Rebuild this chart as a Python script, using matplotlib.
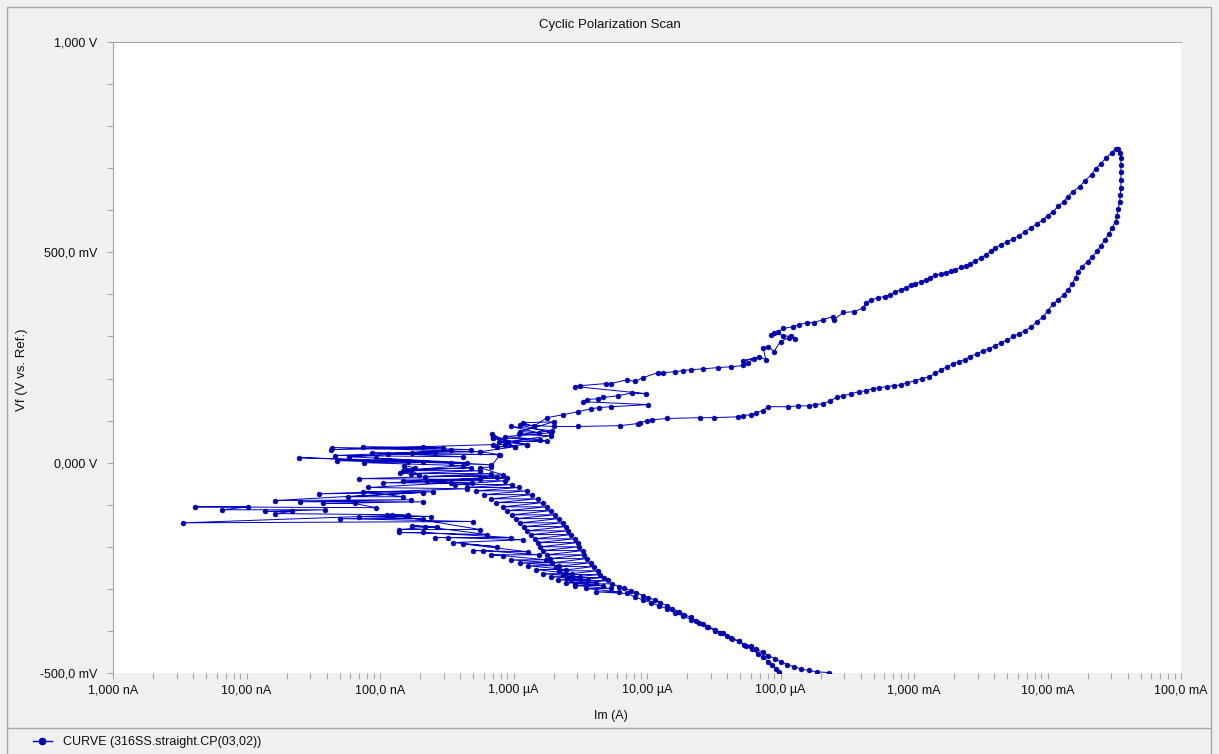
import numpy as np
import matplotlib
matplotlib.use("Agg")
import matplotlib.pyplot as plt
from matplotlib.ticker import FixedLocator, FixedFormatter, LogLocator, MultipleLocator, NullFormatter
from matplotlib.lines import Line2D
from matplotlib.patches import Rectangle

plt.rcParams['font.family'] = ['Liberation Sans', 'DejaVu Sans']

# ---- data: (log10 of Im in A, Vf in mV), in scan order ----
fwd_cathodic = [(-3.64,-499),(-3.73,-497),(-3.79,-494),(-3.85,-490),(-3.90,-485),(-3.95,-480),(-4.00,-473),(-4.04,-466),
    (-4.09,-459),(-4.13,-451),(-4.18,-444),(-4.22,-437),(-4.27,-433),(-4.31,-425),(-4.36,-418),(-4.40,-411),(-4.45,-404),
    (-4.49,-397),(-4.54,-390),(-4.58,-383),(-4.63,-376),(-4.67,-368),(-4.72,-361),(-4.76,-354),(-4.81,-347),(-4.85,-340),
    (-4.90,-333),(-4.94,-326),(-4.99,-321),(-5.03,-316),(-5.08,-309),(-5.12,-304),(-5.17,-299),(-5.21,-295)]

fwd_upper_band = [(-5.26,-288),(-5.54,-288),(-5.29,-280),(-5.57,-280),(-5.32,-273),(-5.60,-273),(-5.35,-266),(-5.63,-266),
    (-5.37,-257),(-5.66,-257),(-5.40,-247),(-5.68,-247),(-5.42,-238),(-5.71,-238),(-5.45,-228),(-5.73,-228),(-5.47,-219),
    (-5.75,-219),(-5.48,-209),(-5.78,-209),(-5.51,-200),(-5.80,-200),(-5.52,-190),(-5.82,-190),(-5.54,-181),(-5.84,-181),
    (-5.57,-171),(-5.87,-171),(-5.59,-162),(-5.90,-162),(-5.61,-152),(-5.92,-152),(-5.63,-143),(-5.95,-143),(-5.66,-133),
    (-5.98,-133),(-5.69,-124),(-6.01,-124),(-5.72,-114),(-6.05,-114),(-5.75,-105),(-6.08,-105),(-5.78,-95),(-6.13,-95),
    (-5.82,-86),(-6.17,-86),(-5.86,-76),(-6.22,-76),(-5.90,-67),(-6.28,-67),(-5.96,-59),(-6.35,-59),(-6.01,-52),(-6.44,-52),
    (-6.06,-43),(-6.55,-43),(-6.12,-33),(-6.66,-33),(-6.17,-26),(-6.77,-26),(-6.25,-19),(-6.83,-19),(-6.32,-12),(-6.80,-17),
    (-6.82,-7),(-6.74,-12),(-6.85,-24),(-6.71,-29),(-6.77,-17)]

fwd_ecorr = [(-6.38,-7),(-7.12,0),(-6.68,2),(-7.32,5),(-6.47,0),(-7.03,10),(-6.17,-5),(-6.79,2),(-7.61,12),(-6.35,0),
    (-7.23,14),(-6.59,26),(-7.34,17),(-6.38,14),(-7.06,24),(-6.11,19),(-6.94,21),(-6.47,29),(-6.76,24),(-6.25,26),
    (-7.36,36),(-6.32,31),(-7.13,38),(-6.53,36),(-7.37,31),(-6.68,38),(-6.15,43)]

fwd_passive = [(-6.06,43),(-6.16,69),(-5.99,38),(-6.15,59),(-5.90,43),(-6.11,50),(-5.75,52),(-6.04,50),(-5.72,64),
    (-5.96,67),(-5.71,76),(-6.02,86),(-5.81,71),(-5.95,74),(-5.70,97),(-5.93,95),(-5.85,86),(-5.75,107),(-5.63,114),
    (-5.52,121),(-5.42,128),(-5.36,131),(-5.27,133),(-4.99,138),(-5.48,145),(-5.45,150),(-5.37,152),(-5.33,155),
    (-5.22,159),(-5.11,166),(-5.01,164),(-5.54,181),(-5.50,183),(-5.31,188),(-5.27,188),(-5.15,197),(-5.09,193),
    (-5.03,202),(-4.92,214),(-4.88,214),(-4.79,216),(-4.73,219),(-4.67,221),(-4.58,223),(-4.47,226),(-4.37,228),
    (-4.28,231),(-4.24,238),(-4.20,247),(-4.28,242),(-4.16,252),(-4.11,245),(-4.13,273),(-4.09,276),(-4.05,264),
    (-4.00,288),(-3.94,297),(-3.89,295),(-3.92,300),(-3.98,302),(-4.05,309),(-4.07,304),(-4.02,311),(-3.98,319),
    (-3.91,323),(-3.86,328),(-3.80,333),(-3.75,333),(-3.68,340),(-3.61,347),(-3.60,340),(-3.53,357),(-3.45,359),
    (-3.38,368),(-3.36,380),(-3.32,387)]

pitting_loop = [(-3.27,392),(-3.22,395),(-3.18,399),(-3.14,406),(-3.10,411),(-3.06,416),(-3.02,423),(-2.99,425),
    (-2.95,430),(-2.91,435),(-2.88,440),(-2.84,445),(-2.80,449),(-2.76,452),(-2.72,456),(-2.69,459),(-2.65,464),
    (-2.61,468),(-2.58,473),(-2.54,480),(-2.50,487),(-2.46,494),(-2.42,504),(-2.39,511),(-2.35,518),(-2.30,525),
    (-2.26,532),(-2.21,540),(-2.17,549),(-2.12,559),(-2.08,568),(-2.03,578),(-2.00,587),(-1.96,597),(-1.92,609),
    (-1.88,620),(-1.85,632),(-1.81,644),(-1.76,656),(-1.72,670),(-1.67,685),(-1.64,699),(-1.60,711),(-1.56,725),
    (-1.52,737),(-1.49,746),(-1.47,746),(-1.455,737),(-1.45,725),(-1.45,708),(-1.45,692),(-1.45,673),(-1.45,654),
    (-1.455,637),(-1.46,620),(-1.47,604),(-1.48,587),(-1.49,573),(-1.515,559),(-1.54,544),(-1.57,530),(-1.60,516),
    (-1.63,502),(-1.665,490),(-1.70,478),(-1.74,466),(-1.77,454),(-1.79,440),(-1.815,425),(-1.845,411),(-1.88,399),
    (-1.92,387),(-1.96,376),(-2.00,361),(-2.03,347),(-2.08,335),(-2.12,323),(-2.17,314),(-2.21,307),(-2.26,300),
    (-2.30,292),(-2.35,285),(-2.39,278),(-2.44,271),(-2.48,266),(-2.53,259),(-2.58,252),(-2.62,245),(-2.66,240),
    (-2.71,235),(-2.75,228),(-2.80,221),(-2.84,212),(-2.89,204),(-2.94,200),(-2.99,195),(-3.05,190),(-3.10,185),
    (-3.15,183),(-3.20,181),(-3.26,178),(-3.31,176),(-3.36,171),(-3.41,169),(-3.47,164),(-3.53,159),(-3.58,155),
    (-3.63,147),(-3.68,140),(-3.74,138),(-3.79,135),(-3.87,135),(-3.945,133),(-4.095,133),(-4.13,124),(-4.18,119),
    (-4.22,114),(-4.28,112),(-4.32,109),(-4.50,107),(-4.60,107)]

rev_passive = [(-4.85,105),(-4.96,102),(-5.00,100),(-5.05,95),(-5.07,93),(-5.20,88),(-5.52,86),(-5.70,86)]

rev_noise = [(-5.95,90),(-5.72,71),(-6.06,62),(-5.80,55),(-6.15,59),(-5.90,43),(-6.12,38),(-5.99,38),(-6.25,26),
    (-6.10,19),(-6.17,-10),(-6.25,-12),(-6.08,-29),(-7.16,-38),(-6.25,-40),(-6.975,-48),(-6.31,-48),(-6.83,-43),
    (-6.05,-36),(-6.65,-43),(-6.47,-48),(-7.09,-59),(-6.35,-62),(-7.46,-74),(-6.68,-71),(-7.24,-81),(-6.83,-81),
    (-7.13,-69),(-6.60,-69),(-7.79,-90),(-6.77,-88),(-7.60,-93),(-6.68,-93),(-7.43,-97),(-7.19,-97),(-7.03,-107),
    (-8.385,-105),(-7.99,-105),(-8.18,-112),(-7.41,-112),(-7.86,-116),(-7.66,-116),(-7.79,-121),(-6.79,-124),
    (-8.475,-143),(-6.30,-140),(-7.30,-133),(-6.68,-133),(-7.16,-128),(-6.62,-128),(-6.95,-124),(-6.91,-124),
    (-6.25,-159),(-6.86,-159),(-6.57,-152),(-6.76,-150),(-6.66,-152),(-6.195,-171),(-6.86,-166),(-6.68,-166),
    (-6.02,-178),(-6.59,-178),(-6.49,-178),(-5.93,-183),(-6.45,-190),(-6.12,-200),(-6.38,-193),(-5.89,-212),
    (-6.30,-209),(-6.225,-209),(-5.81,-219),(-6.17,-219),(-6.075,-221),(-5.76,-231),(-6.02,-231),(-5.71,-238),
    (-5.95,-238),(-5.66,-245),(-5.89,-245),(-5.61,-254),(-5.835,-254),(-5.56,-264),(-5.78,-264),(-5.50,-271),
    (-5.72,-271),(-5.44,-278),(-5.67,-278),(-5.385,-285),(-5.61,-285),(-5.33,-292),(-5.54,-292),(-5.27,-299),
    (-5.46,-299),(-5.21,-307),(-5.385,-307),(-5.15,-311)]

rev_cathodic = [(-5.09,-319),(-5.03,-326),(-4.97,-333),(-4.91,-340),(-4.85,-347),(-4.79,-357),(-4.73,-364),
    (-4.67,-373),(-4.61,-380),(-4.55,-390),(-4.49,-399),(-4.43,-406),(-4.37,-416),(-4.31,-425),(-4.26,-435),
    (-4.215,-444),(-4.17,-454),(-4.13,-463),(-4.09,-473),(-4.065,-482),(-4.035,-490),(-4.01,-497)]

x_tick_values = [1e-9, 1e-8, 1e-7, 1e-6, 1e-5, 1e-4, 1e-3, 1e-2, 1e-1]
x_tick_labels = ["1,000 nA", "10,00 nA", "100,0 nA", "1,000 \u00b5A", "10,00 \u00b5A", "100,0 \u00b5A",
                 "1,000 mA", "10,00 mA", "100,0 mA"]
y_tick_values = [-0.5, 0.0, 0.5, 1.0]
y_tick_labels = ["-500,0 mV", "0,000 V", "500,0 mV", "1,000 V"]

title_text = "Cyclic Polarization Scan"
x_label = "Im (A)"
y_label = "Vf (V vs. Ref.)"
legend_label = "CURVE (316SS.straight.CP(03,02))"

# ---- build ----
segments = [fwd_cathodic, fwd_upper_band, fwd_ecorr, fwd_passive, pitting_loop, rev_passive, rev_noise, rev_cathodic]
pts = np.array([p for seg in segments for p in seg], dtype=float)
im = 10.0 ** pts[:, 0]
vf = pts[:, 1] / 1000.0

W, H = 1219, 754
fig = plt.figure(figsize=(W / 100, H / 100), dpi=100, facecolor='#f0f0f0')
ax = fig.add_axes([113 / W, (H - 673) / H, (1181 - 113) / W, (673 - 42) / H])
ax.set_facecolor('white')

line_color = '#0000c0'
ax.plot(im, vf, color=line_color, lw=0.7, marker='o', ms=3.6, mfc='#0000b0', mec='#0000b0', mew=0.3,
        solid_joinstyle='round')

ax.set_xscale('log')
ax.set_xlim(1e-9, 1e-1)
ax.set_ylim(-0.5, 1.0)

ax.xaxis.set_major_locator(FixedLocator(x_tick_values))
ax.xaxis.set_major_formatter(FixedFormatter(x_tick_labels))
ax.xaxis.set_minor_locator(LogLocator(base=10, subs=np.arange(2, 10), numticks=100))
ax.xaxis.set_minor_formatter(NullFormatter())
ax.yaxis.set_major_locator(FixedLocator(y_tick_values))
ax.yaxis.set_major_formatter(FixedFormatter(y_tick_labels))
ax.yaxis.set_minor_locator(MultipleLocator(0.1))

ax.tick_params(axis='both', which='both', direction='out', length=4, width=0.8, color='#a8a8a8',
               labelsize=9, labelcolor='#101010')
ax.tick_params(axis='y', which='major', pad=7)
ax.tick_params(axis='x', which='major', pad=4)

for side in ['right', 'bottom']:
    ax.spines[side].set_visible(False)
for side in ['left', 'top']:
    ax.spines[side].set_color('#a8a8a8')
    ax.spines[side].set_linewidth(0.8)

fig.text(0.5, 1 - 25 / H, title_text, ha='center', va='center', fontsize=9.5, color='#101010')
fig.text(611 / W, 1 - 716 / H, x_label, ha='center', va='center', fontsize=9, color='#101010')
fig.text(22 / W, 1 - 370 / H, y_label, ha='center', va='center', rotation=90, fontsize=9.5, color='#101010')

# frame and legend separator
fig.add_artist(Rectangle((7 / W, -0.01), (1211 - 7) / W, (H - 7) / H + 0.01, transform=fig.transFigure,
                         fill=False, ec='#a8a8a8', lw=1.0))
fig.add_artist(Line2D([7 / W, 1211 / W], [1 - 728 / H, 1 - 728 / H], transform=fig.transFigure,
                      color='#a8a8a8', lw=1.0))

handle = Line2D([], [], color=line_color, lw=1.0, marker='o', ms=4.5, mfc='#0000b0', mec='#0000b0')
fig.legend(handles=[handle], labels=[legend_label], loc='center left',
           bbox_to_anchor=(33 / W, 1 - 742 / H), frameon=False, handlelength=1.5, handletextpad=0.9,
           fontsize=9, borderpad=0, borderaxespad=0, labelcolor='#101010')

fig.savefig('out.png', dpi=100, facecolor=fig.get_facecolor())
